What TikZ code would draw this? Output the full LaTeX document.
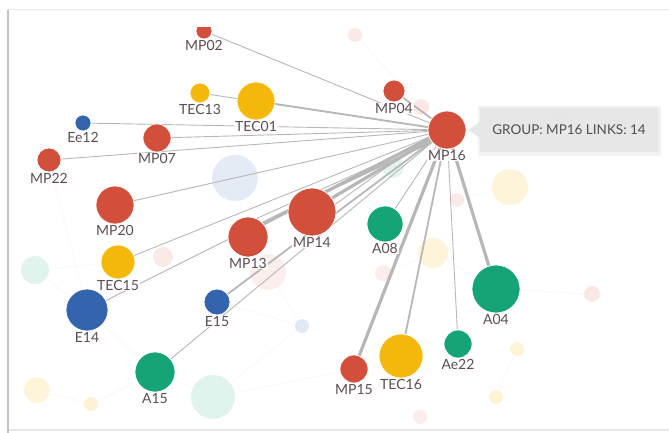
\documentclass[tikz,border=0pt]{standalone}
\usepackage{fontspec}
\setmainfont{Lato}
\usetikzlibrary{positioning,backgrounds}
\definecolor{ink}     {HTML}{5B4D52}
\definecolor{grpred}  {HTML}{D14F3B}
\definecolor{grpyel}  {HTML}{F3B80A}
\definecolor{grpgrn}  {HTML}{15A378}
\definecolor{grpblu}  {HTML}{3464AE}
\definecolor{linkgray}{HTML}{B7B7B7}
\definecolor{tipfill} {HTML}{E7E7E7}
\definecolor{tiptext} {HTML}{4F4F4F}
\tikzset{
  % --- nodes
  dot/.style   = {circle, draw=white, line width=0.7pt, inner sep=0pt,
                  label distance=3pt},
  mp/.style    = {dot, fill=grpred},
  tec/.style   = {dot, fill=grpyel},
  grn/.style   = {dot, fill=grpgrn},
  blu/.style   = {dot, fill=grpblu},
  ghost/.style = {circle, inner sep=0pt, draw=none, fill=#1},
  lbl/.style   = {font=\fontsize{14}{14}\selectfont, text=ink, fill=white,
                  fill opacity=0.85, text opacity=1, inner sep=0.7pt},
  tip/.style   = {fill=tipfill, fill opacity=0.94, text opacity=1, text=tiptext,
                  font=\fontsize{13.5}{13.5}\selectfont, minimum width=178pt,
                  minimum height=44pt, inner sep=0pt},
  % --- edges
  lk/.style    = {draw=linkgray, line width=0.9pt},
  lkm/.style   = {lk, line width=1.8pt},
  lkt/.style   = {lk, line width=3.2pt},
  web/.style   = {draw=black!3, line width=0.7pt},
}
\begin{document}
\begin{tikzpicture}[x=1pt, y=-1pt]
  \useasboundingbox (0,0) rectangle (669,433);
  % frame of the panel
  \draw[black!9, line width=1pt] (8,10) -- (669,10);
  \draw[black!10, line width=1.4pt] (8,430) -- (669,430);
  \draw[black!24, line width=1.8pt] (8,433) -- (8,10);

  % --- groups
  \begin{scope}
    \clip (0,28) rectangle (669,433);
    \node[mp, minimum size=16, label={[lbl]below:MP02}] (mp02) at (204,31) {};
  \end{scope}
  \node[tec, minimum size=20, label={[lbl]below:TEC13}] (tec13) at (200,93) {};
  \node[tec, minimum size=38, label={[lbl]below:TEC01}] (tec01) at (256,101) {};
  \node[blu, minimum size=16, label={[lbl]below:Ee12}]  (ee12)  at (83,123) {};
  \node[mp,  minimum size=28, label={[lbl]below:MP07}]  (mp07)  at (157,138) {};
  \node[mp,  minimum size=24, label={[lbl]below:MP22}]  (mp22)  at (49,160) {};
  \node[mp,  minimum size=22, label={[lbl]below:MP04}]  (mp04)  at (394,91) {};
  \node[mp,  minimum size=38, label={[lbl]below:MP16}]  (mp16)  at (447,130) {};
  \node[mp,  minimum size=38, label={[lbl]below:MP20}]  (mp20)  at (115,205) {};
  \node[mp,  minimum size=48, label={[lbl]below:MP14}]  (mp14)  at (312,212) {};
  \node[mp,  minimum size=40, label={[lbl]below:MP13}]  (mp13)  at (248,237) {};
  \node[grn, minimum size=36, label={[lbl]below:A08}]   (a08)   at (385,224) {};
  \node[blu, minimum size=42, label={[lbl]below:E14}]   (e14)   at (87,310) {};
  \node[tec, minimum size=34, label={[lbl]below:TEC15}] (tec15) at (118,262) {};
  \node[blu, minimum size=26, label={[lbl]below:E15}]   (e15)   at (217,302) {};
  \node[grn, minimum size=40, label={[lbl]below:A15}]   (a15)   at (155,372) {};
  \node[grn, minimum size=48, label={[lbl]below:A04}]   (a04)   at (496,289) {};
  \node[grn, minimum size=28, label={[lbl]below:Ae22}]  (ae22)  at (458,344) {};
  \node[tec, minimum size=44, label={[lbl]below:TEC16}] (tec16) at (401,356) {};
  \node[mp,  minimum size=28, label={[lbl]below:MP15}]  (mp15)  at (354,369) {};

  \begin{pgfonlayer}{background}
    % faded groups
    \foreach \n/\x/\y/\s/\c in {1/235/178/46/grpblu!13, 2/355/35/14/grpred!12,
        3/421/107/16/grpred!13, 4/558/117/14/grpred!12, 5/510/187/36/grpyel!15,
        6/457/200/14/grpred!12, 7/393/167/22/grpgrn!12, 8/35/270/28/grpgrn!13,
        9/163/257/20/grpred!12, 10/268/272/36/grpred!9, 11/302/326/14/grpblu!14,
        12/37/390/26/grpyel!15, 13/91/404/14/grpyel!18, 14/213/397/44/grpgrn!13,
        15/433/253/30/grpyel!15, 16/383/273/16/grpred!10, 17/592/294/16/grpred!13,
        18/517/349/14/grpyel!17, 19/496/397/14/grpyel!17, 20/420/417/14/grpred!10}
      \node[ghost=\c, minimum size=\s] (g\n) at (\x,\y) {};

    \draw[web] (g8) -- (e14);  \draw[web] (e14) -- (a15);  \draw[web] (a15) -- (g14);
    \draw[web] (g12) -- (g13); \draw[web] (g13) -- (a15);  \draw[web] (g8) -- (tec15);
    \draw[web] (tec15) -- (g9); \draw[web] (mp20) -- (g1); \draw[web] (g1) -- (mp13);
    \draw[web] (mp13) -- (g10); \draw[web] (g10) -- (g11); \draw[web] (g11) -- (g14);
    \draw[web] (g14) -- (mp15); \draw[web] (g16) -- (g15); \draw[web] (g15) -- (a04);
    \draw[web] (a04) -- (g17);  \draw[web] (g5) -- (g6);   \draw[web] (g2) -- (g3);
    \draw[web] (g18) -- (g19);  \draw[web] (e15) -- (g11); \draw[web] (mp22) -- (e14);

    % --- links
    \draw[lk]  (mp02)  -- (mp16);
    \draw[lk]  (tec13) -- (mp16);
    \draw[lkm] (tec01) -- (mp16);
    \draw[lk]  (ee12)  -- (mp16);
    \draw[lk]  (mp07)  -- (mp16);
    \draw[lk]  (mp22)  -- (mp16);
    \draw[lk]  (mp20)  -- (mp16);
    \draw[lk]  (tec15) -- (mp16);
    \draw[lk]  (e14)   -- (mp16);
    \draw[lk]  (a15)   -- (mp16);
    \draw[lkm] (e15)   -- (mp16);
    \draw[lkt] (mp13.40) -- (mp16.205);
    \draw[lk]  (mp13.65) -- (mp16.212);
    \draw[lkt] (mp14.35) -- (mp16.210);
    \draw[lkm] (mp14.55) -- (mp16.218);
    \draw[lk]  (mp14.18) -- (mp16.200);
    \draw[lkm] (mp04)  -- (mp16);
    \draw[lk]  (a08)   -- (mp16);
    \draw[lkt] (a04)   -- (mp16);
    \draw[lk]  (ae22)  -- (mp16);
    \draw[lkm] (tec16) -- (mp16);
    \draw[lkt] (mp15)  -- (mp16);
  \end{pgfonlayer}

  % tooltip
  \fill[black, opacity=0.05] (478,106) rectangle (661,156);
  \node[tip] (tip) at (569,130) {GROUP: MP16 LINKS: 14};
  \fill[tipfill] ([yshift=8pt]tip.west) -- ([xshift=-11pt]tip.west)
    -- ([yshift=-8pt]tip.west) -- cycle;
\end{tikzpicture}
\end{document}
